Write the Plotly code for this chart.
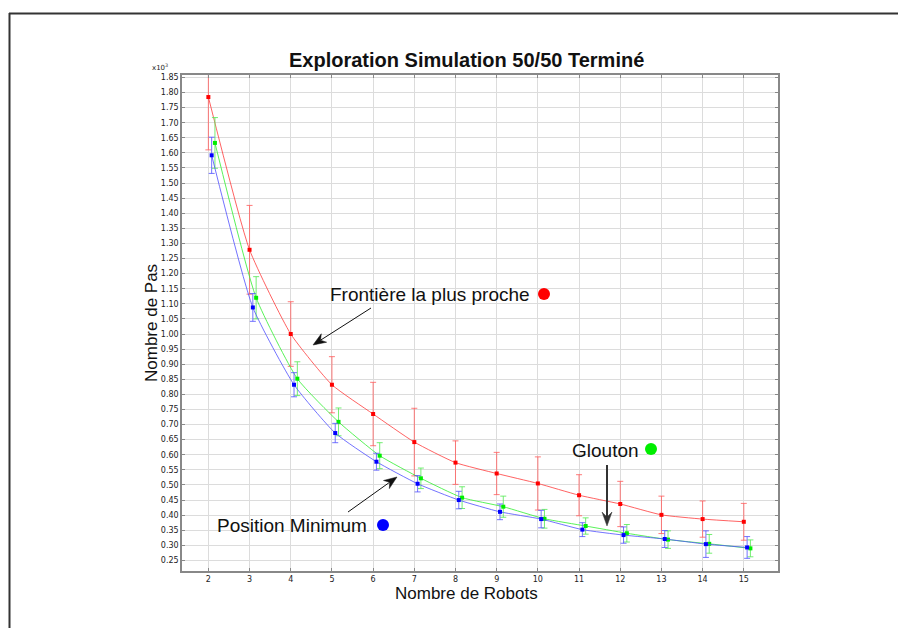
import math
import plotly.graph_objects as go

robots = list(range(2, 16))

# Nombre de Pas (x10^3)
frontiere = [1.785, 1.279, 1.000, 0.832, 0.735, 0.642, 0.574, 0.538, 0.505, 0.466, 0.437, 0.401, 0.387, 0.378]
frontiere_err = [0.175, 0.147, 0.107, 0.093, 0.105, 0.112, 0.072, 0.070, 0.088, 0.068, 0.075, 0.062, 0.060, 0.061]

position_min = [1.592, 1.088, 0.832, 0.672, 0.577, 0.504, 0.450, 0.411, 0.387, 0.352, 0.334, 0.321, 0.304, 0.293]
position_min_err = [0.060, 0.046, 0.040, 0.032, 0.028, 0.027, 0.029, 0.026, 0.029, 0.023, 0.027, 0.028, 0.044, 0.036]

glouton = [1.633, 1.120, 0.852, 0.709, 0.597, 0.522, 0.458, 0.428, 0.388, 0.364, 0.340, 0.319, 0.305, 0.290]
glouton_err = [0.084, 0.070, 0.056, 0.046, 0.043, 0.034, 0.036, 0.035, 0.031, 0.027, 0.029, 0.029, 0.031, 0.028]

y_ticks = [round(0.25 + 0.05 * i, 2) for i in range(33)]
y_ticktext = ["%.2f" % v for v in y_ticks]

OFF = 8  # default page body margin
W, H = 906 - OFF, 628 - OFF
L, R, T, B = 182, 778, 75, 571  # plot area in window pixels


def px(x):
    return (x - L) / (R - L)


def py(y):
    return (B - y) / (B - T)


fig = go.Figure()

def add_series(xs, ys, errs, line_col, err_col, mk_col, name):
    fig.add_trace(go.Scatter(
        x=xs, y=ys, mode="lines+markers", name=name,
        line=dict(color=line_col, width=1, shape="spline", smoothing=0.5),
        marker=dict(color=mk_col, size=4, symbol="square"),
        error_y=dict(type="data", array=errs, visible=True, color=err_col, thickness=1, width=3),
        showlegend=False,
    ))

add_series(robots, frontiere, frontiere_err, "rgba(255,60,60,0.8)", "rgba(255,90,90,0.8)", "#ff0000", "Frontière la plus proche")
add_series([r + 0.16 for r in robots], glouton, glouton_err, "rgba(60,240,60,0.85)", "rgba(90,235,90,0.85)", "#00ee00", "Glouton")
add_series([r + 0.08 for r in robots], position_min, position_min_err, "rgba(80,80,255,0.8)", "rgba(80,80,255,0.8)", "#0000ff", "Position Minimum")

axis_common = dict(
    showgrid=True, gridcolor="#dcdcdc", gridwidth=1,
    showline=True, linecolor="#888888", linewidth=1.5, mirror="ticks",
    ticks="inside", ticklen=3, tickcolor="#888888",
    zeroline=False,
    tickfont=dict(family="DejaVu Sans", size=8, color="#222222"),
)

fig.update_xaxes(range=[1.36, 15.83], tickvals=robots, ticktext=[str(r) for r in robots], **axis_common)
fig.update_yaxes(range=[0.215, 1.858], tickvals=y_ticks, ticktext=y_ticktext, **axis_common)

txt = dict(family="Liberation Sans", size=19, color="#111")
annotations = [
    dict(x=px(466), y=py(60), xref="paper", yref="paper", text="<b>Exploration Simulation 50/50 Terminé</b>",
         showarrow=False, font=dict(family="Liberation Sans", size=20, color="#111"), xanchor="center", yanchor="middle"),
    dict(x=px(160), y=py(67), xref="paper", yref="paper", text="x10<sup>3</sup>",
         showarrow=False, font=dict(family="DejaVu Sans", size=7, color="#222"), xanchor="center", yanchor="middle"),
    dict(x=px(466), y=py(593), xref="paper", yref="paper", text="Nombre de Robots",
         showarrow=False, font=dict(family="Liberation Sans", size=17, color="#111"), xanchor="center", yanchor="middle"),
    dict(x=px(151), y=py(323), xref="paper", yref="paper", text="Nombre de Pas", textangle=-90,
         showarrow=False, font=dict(family="Liberation Sans", size=17, color="#111"), xanchor="center", yanchor="middle"),
    dict(x=px(430), y=py(294), xref="paper", yref="paper", text="Frontière la plus proche",
         showarrow=False, font=txt, xanchor="center", yanchor="middle"),
    dict(x=px(292), y=py(525), xref="paper", yref="paper", text="Position Minimum",
         showarrow=False, font=txt, xanchor="center", yanchor="middle"),
    dict(x=px(605), y=py(450), xref="paper", yref="paper", text="Glouton",
         showarrow=False, font=txt, xanchor="center", yanchor="middle"),
]

shapes = []


def arrow(tail, head, color, width=1.0, length=13.0, half=5.0, notch=9.0):
    tx, ty = tail
    hx, hy = head
    d = math.hypot(hx - tx, hy - ty)
    ux, uy = (hx - tx) / d, (hy - ty) / d
    nx, ny = -uy, ux
    bx, by = hx - ux * length, hy - uy * length
    pts = [
        (hx, hy),
        (bx + nx * half, by + ny * half),
        (hx - ux * notch, hy - uy * notch),
        (bx - nx * half, by - ny * half),
    ]
    shapes.append(dict(type="line", xref="paper", yref="paper",
                       x0=px(tx), y0=py(ty), x1=px(hx - ux * notch), y1=py(hy - uy * notch),
                       line=dict(color=color, width=width)))
    path = "M " + " L ".join("%.5f,%.5f" % (px(a), py(b)) for a, b in pts) + " Z"
    shapes.append(dict(type="path", xref="paper", yref="paper", path=path,
                       fillcolor=color, line=dict(color=color, width=0.5)))


arrow((371, 308), (313, 345), "#111111")
arrow((348, 512), (397, 477), "#111111")
arrow((607, 465), (607, 526), "#333333", width=2.0, length=14, half=5, notch=9)

for cx, cy, col in [(544, 294, "#ff0000"), (383, 525, "#0000ff"), (651, 449, "#00ee00")]:
    shapes.append(dict(type="circle", xref="paper", yref="paper", xsizemode="pixel", ysizemode="pixel",
                       xanchor=px(cx), yanchor=py(cy), x0=-6, x1=6, y0=-6, y1=6,
                       fillcolor=col, line=dict(width=0)))
# outer frame (top and left edges)
shapes.append(dict(type="line", xref="paper", yref="paper", x0=px(9), x1=px(910), y0=py(13.5), y1=py(13.5),
                   line=dict(color="#333333", width=2)))
shapes.append(dict(type="line", xref="paper", yref="paper", x0=px(9.5), x1=px(9.5), y0=py(13), y1=py(640),
                   line=dict(color="#333333", width=2)))

fig.update_layout(
    width=W, height=H,
    margin=dict(l=L - OFF, r=906 - R, t=T - OFF, b=628 - B, autoexpand=False),
    paper_bgcolor="white", plot_bgcolor="white",
    annotations=annotations, shapes=shapes,
    showlegend=False,
)

fig.write_html("out.html")
